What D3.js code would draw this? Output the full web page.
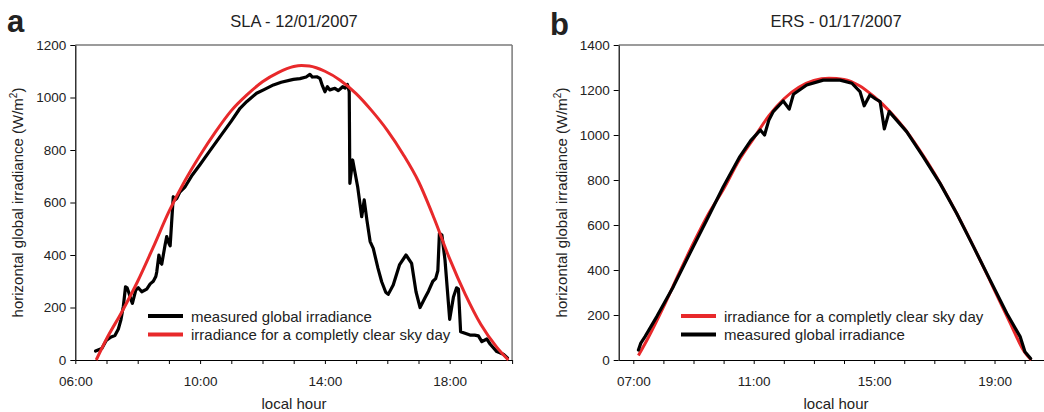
<!DOCTYPE html>
<html>
<head>
<meta charset="utf-8">
<script src="https://cdn.jsdelivr.net/npm/d3@7"></script>
<style>
  html, body { margin: 0; padding: 0; background: #fff; }
  svg { display: block; font-family: "Liberation Sans", Arial, sans-serif; }
</style>
</head>
<body>
<svg id="chart" width="1044" height="412"></svg>
<script>
// ---------------- DATA ----------------
// Panel a: SLA - 12/01/2007  (hour of day, W/m2)
const measuredA_hours = [6.65,6.85,7.0,7.15,7.27,7.38,7.46,7.54,7.61,7.66,7.72,7.8,7.83,7.94,8.02,8.13,8.29,8.40,8.50,8.58,8.61,8.68,8.73,8.77,8.88,8.93,9.0,9.04,9.14,9.2,9.25,9.35,9.52,9.75,10.0,10.3,10.64,11.0,11.28,11.5,11.81,12.05,12.35,12.6,12.99,13.2,13.4,13.52,13.6,13.74,13.84,13.92,14.0,14.08,14.16,14.32,14.43,14.57,14.65,14.72,14.78,14.80,14.89,14.96,15.05,15.18,15.26,15.35,15.45,15.55,15.70,15.82,15.95,16.03,16.19,16.39,16.60,16.78,16.92,17.05,17.20,17.32,17.46,17.55,17.62,17.67,17.75,17.85,18.0,18.12,18.22,18.28,18.35,18.49,18.65,18.8,18.92,19.03,19.19,19.3,19.51,19.72,19.85];
const measuredA_values = [34,44,76,88,93,118,152,205,279,275,255,225,216,267,275,260,270,290,300,318,335,400,372,365,440,470,445,435,622,610,615,640,660,705,745,795,851,910,959,985,1016,1030,1048,1058,1069,1072,1078,1088,1078,1079,1073,1045,1022,1041,1029,1035,1026,1041,1036,1050,1022,673,762,717,660,546,610,530,451,425,350,298,258,250,286,362,400,368,260,200,235,262,300,310,340,483,476,380,155,240,275,270,108,102,95,95,92,70,80,60,32,22,8];
const clearA_hours = [6.67,7.0,7.5,8.0,8.5,9.0,9.5,10.0,10.5,11.0,11.5,12.0,12.5,13.0,13.25,13.5,14.0,14.5,15.0,15.5,16.0,16.5,17.0,17.5,18.0,18.5,19.0,19.5,19.88];
const clearA_values = [0,80,185,300,430,565,680,780,870,950,1010,1060,1095,1118,1122,1120,1100,1065,1015,950,875,785,680,540,385,250,135,50,0];

// Panel b: ERS - 01/17/2007
const measuredB_hours = [7.17,7.25,7.39,7.78,8.33,8.88,9.44,9.99,10.54,10.9,11.22,11.36,11.5,11.65,11.98,12.18,12.32,12.76,13.31,13.87,14.26,14.53,14.67,14.86,15.05,15.20,15.34,15.5,16.08,16.63,17.19,17.74,18.30,18.85,19.41,19.85,20.01,20.20];
const measuredB_values = [44,75,104,193,326,474,622,770,904,975,1022,1000,1065,1104,1151,1115,1181,1222,1244,1244,1230,1193,1130,1178,1160,1148,1027,1104,1015,904,785,652,504,356,207,104,37,7];
const clearB_hours = [7.17,7.5,8.0,8.5,9.0,9.5,10.0,10.5,11.0,11.5,12.0,12.5,13.0,13.5,14.0,14.5,15.0,15.5,16.0,16.5,17.0,17.5,18.0,18.5,19.0,19.5,20.0,20.22];
const clearB_values = [20,100,235,380,520,650,760,885,985,1085,1160,1212,1242,1252,1247,1220,1170,1108,1030,935,830,712,585,450,310,170,35,0];

// Axis ticks
const xTicksA = [6,7,8,9,10,11,12,13,14,15,16,17,18,19,20];
const xTickLabelsA = {6:"06:00",10:"10:00",14:"14:00",18:"18:00"};
const yTicksA = [0,200,400,600,800,1000,1200];
const xTicksB = [7,8,9,10,11,12,13,14,15,16,17,18,19,20];
const xTickLabelsB = {7:"07:00",11:"11:00",15:"15:00",19:"19:00"};
const yTicksB = [0,200,400,600,800,1000,1200,1400];

const RED = "#e8292b";
const BLACK = "#000";
const TEXT = "#222";

const svg = d3.select("#chart");
svg.append("rect").attr("width",1044).attr("height",412).attr("fill","#fff");

function panel(cfg) {
  const x = d3.scaleLinear().domain(cfg.xDomain).range(cfg.xRange);
  const y = d3.scaleLinear().domain(cfg.yDomain).range([360, 45]);
  const g = svg.append("g");

  const clipId = "clip" + cfg.letter;
  svg.append("clipPath").attr("id", clipId).append("rect")
    .attr("x", cfg.xRange[0]).attr("y", 40).attr("width", cfg.xRange[1]-cfg.xRange[0]).attr("height", 325);

  // top and right frame (gray)
  g.append("line").attr("x1", cfg.xRange[0]).attr("x2", cfg.xRange[1]).attr("y1", 45).attr("y2", 45)
    .attr("stroke", "#7a7a7a").attr("stroke-width", 1.5);
  g.append("line").attr("x1", cfg.xRange[1]).attr("x2", cfg.xRange[1]).attr("y1", 45).attr("y2", 360)
    .attr("stroke", "#7a7a7a").attr("stroke-width", 1.5);

  // axes
  const ya = d3.axisLeft(y).tickValues(cfg.yTicks).tickSize(5).tickSizeOuter(0).tickPadding(4)
    .tickFormat(d3.format("d"));
  const yg = g.append("g").attr("transform", `translate(${cfg.xRange[0]},0)`).call(ya);
  const xa = d3.axisBottom(x).tickValues(cfg.xTicks).tickSize(4).tickSizeOuter(0).tickPadding(12)
    .tickFormat(d => cfg.xLabels[d] || "");
  const xg = g.append("g").attr("transform", `translate(0,360)`).call(xa);
  [yg, xg].forEach(a => {
    a.select(".domain").attr("stroke", "#000").attr("stroke-width", 1.2);
    a.selectAll(".tick line").attr("stroke", "#000").attr("stroke-width", 1);
    a.selectAll("text").attr("fill", TEXT).style("font-size", "13.5px")
      .style("font-family", '"Liberation Sans", Arial, sans-serif');
  });

  const lineGen = d3.line().x(d => x(d[0])).y(d => y(d[1]));
  const smooth = d3.line().curve(d3.curveMonotoneX).x(d => x(d[0])).y(d => y(d[1]));

  const plot = g.append("g").attr("clip-path", `url(#${clipId})`);
  const red = d3.zip(cfg.clearH, cfg.clearV);
  const blk = d3.zip(cfg.measH, cfg.measV);
  const drawRed = () => plot.append("path").attr("d", smooth(red)).attr("fill","none")
    .attr("stroke", RED).attr("stroke-width", 3).attr("stroke-linejoin","round");
  const drawBlack = () => plot.append("path").attr("d", lineGen(blk)).attr("fill","none")
    .attr("stroke", BLACK).attr("stroke-width", 3.2).attr("stroke-linejoin","round").attr("stroke-linecap","round");
  if (cfg.redOnTop) { drawBlack(); drawRed(); } else { drawRed(); drawBlack(); }

  // legend
  cfg.legend.forEach((item, i) => {
    const ly = 316 + i * 18.5;
    g.append("line").attr("x1", cfg.legendX).attr("x2", cfg.legendX + 35).attr("y1", ly).attr("y2", ly)
      .attr("stroke", item.color).attr("stroke-width", 4);
    g.append("text").attr("x", cfg.legendX + 43).attr("y", ly + 5.5).text(item.label)
      .attr("fill", TEXT).style("font-size", "15px");
  });

  // titles
  g.append("text").attr("x", cfg.titleX).attr("y", 27).attr("text-anchor","middle")
    .attr("fill", TEXT).style("font-size", "16.5px").text(cfg.title);
  g.append("text").attr("x", cfg.letterX).attr("y", cfg.letterY).attr("fill", "#222")
    .style("font-size", "31px").style("font-weight", "bold").text(cfg.letter);
  g.append("text").attr("x", cfg.titleX).attr("y", 409).attr("text-anchor","middle")
    .attr("fill", TEXT).style("font-size", "15px").text("local hour");
  const yl = g.append("text").attr("transform", `translate(${cfg.yLabelX},202.5) rotate(-90)`)
    .attr("text-anchor","middle").attr("fill", TEXT).style("font-size", "15px");
  yl.append("tspan").text("horizontal global irradiance (W/m");
  yl.append("tspan").attr("dy", -6).style("font-size", "10px").text("2");
  yl.append("tspan").attr("dy", 6).text(")");
}

panel({
  letter: "a", letterX: 7, letterY: 32,
  title: "SLA - 12/01/2007", titleX: 294,
  xDomain: [6, 20], xRange: [75.3, 512.1],
  yDomain: [0, 1200], yTicks: yTicksA,
  xTicks: xTicksA, xLabels: xTickLabelsA,
  measH: measuredA_hours, measV: measuredA_values,
  clearH: clearA_hours, clearV: clearA_values,
  redOnTop: true,
  legendX: 148,
  legend: [{color: BLACK, label: "measured global irradiance"},
           {color: RED, label: "irradiance for a completly clear sky day"}],
  yLabelX: 23
});

panel({
  letter: "b", letterX: 550, letterY: 35,
  title: "ERS - 01/17/2007", titleX: 836,
  xDomain: [6.515, 20.7], xRange: [618.7, 1045.7],
  yDomain: [0, 1400], yTicks: yTicksB,
  xTicks: xTicksB, xLabels: xTickLabelsB,
  measH: measuredB_hours, measV: measuredB_values,
  clearH: clearB_hours, clearV: clearB_values,
  redOnTop: false,
  legendX: 681,
  legend: [{color: RED, label: "irradiance for a completly clear sky day"},
           {color: BLACK, label: "measured global irradiance"}],
  yLabelX: 567
});
</script>
</body>
</html>
